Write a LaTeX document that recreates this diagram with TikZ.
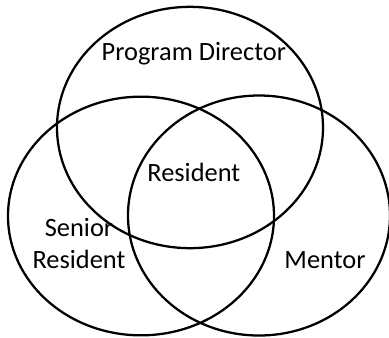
\documentclass[tikz,border=0pt]{standalone}
\usepackage{fontspec}
\setmainfont{Carlito}
\usetikzlibrary{shapes.geometric}

\tikzset{
  set/.style={ellipse, draw, line width=1.7pt, minimum width=199.5pt, minimum height=181pt, inner sep=0pt},
  role/.style={font=\fontsize{19.8}{24}\selectfont, inner sep=0pt}
}

\begin{document}
\begin{tikzpicture}[x=0.75pt,y=0.75pt,yscale=-1,xscale=1]
    \useasboundingbox (0,0) rectangle (389,337);

    % Sets
    \node [set] (director) at (190,127.5) {};
    \node [set, minimum height=179pt] (senior) at (141,216) {};
    \node [set, minimum width=196.5pt, minimum height=180pt] (mentor) at (259,215.5) {};

    % Labels
    \node [role, anchor=base] (lbldirector) at (193.8,60) {Program Director};
    \node [role, anchor=base] (lblresident) at (193.8,181.5) {Resident};
    \node [role, align=center] (lblsenior) at (79,244) {Senior\\Resident};
    \node [role, anchor=base] (lblmentor) at (325,268) {Mentor};
\end{tikzpicture}
\end{document}
